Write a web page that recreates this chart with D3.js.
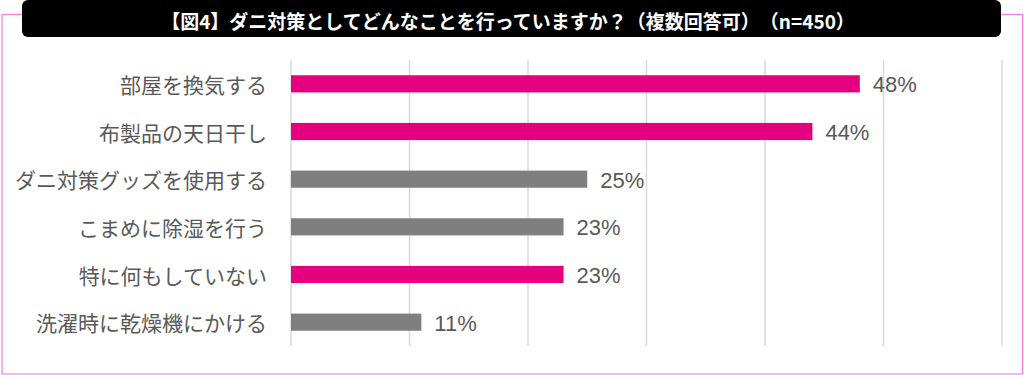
<!DOCTYPE html>
<html>
<head>
<meta charset="utf-8">
<script src="https://cdn.jsdelivr.net/npm/d3@7"></script>
<style>
  html, body { margin: 0; padding: 0; background: #fff; }
  svg { display: block; }
  text { text-spacing-trim: space-all; }
</style>
</head>
<body>
<div id="viz"></div>
<script>
// data
const titleText = "【図4】ダニ対策としてどんなことを行っていますか？（複数回答可）（n=450）";
const categories = ["部屋を換気する", "布製品の天日干し", "ダニ対策グッズを使用する", "こまめに除湿を行う", "特に何もしていない", "洗濯時に乾燥機にかける"];
const values = [48, 44, 25, 23, 23, 11];
const highlight = [true, true, false, false, true, false];
const xTicks = [0, 10, 20, 30, 40, 50, 60];

const width = 1024, height = 375;
const pink = "#e4007f", gray = "#7f7f7f", textCol = "#595959";

const svg = d3.select("#viz").append("svg")
  .attr("width", width)
  .attr("height", height);

// outer pink frame
svg.append("rect")
  .attr("x", 2).attr("y", 14.5)
  .attr("width", 1020.5).attr("height", 359.5)
  .attr("fill", "none")
  .attr("stroke", "#f57cf5")
  .attr("stroke-width", 1.2);

// title banner
svg.append("rect")
  .attr("x", 22).attr("y", 0)
  .attr("width", 979).attr("height", 37)
  .attr("rx", 6)
  .attr("fill", "#000");

svg.append("text")
  .attr("x", 508).attr("y", 20)
  .attr("text-anchor", "middle")
  .attr("dominant-baseline", "central")
  .attr("fill", "#fff")
  .attr("font-family", "'Noto Sans CJK JP', sans-serif")
  .attr("font-weight", "bold")
  .attr("font-size", 19)
  .text(titleText);

// scales
const x = d3.scaleLinear().domain([0, 60]).range([291, 1002]);
const y = d3.scaleBand().domain(categories).range([60, 346])
  .paddingInner(0.64).paddingOuter(0.32);

// grid
svg.append("g")
  .selectAll("line")
  .data(xTicks)
  .join("line")
  .attr("x1", d => x(d)).attr("x2", d => x(d))
  .attr("y1", 60).attr("y2", 346)
  .attr("stroke", "#d9d9d9")
  .attr("stroke-width", 1.5);

// bars
svg.append("g")
  .selectAll("rect")
  .data(values)
  .join("rect")
  .attr("x", x(0))
  .attr("y", (d, i) => y(categories[i]))
  .attr("width", d => x(d) - x(0))
  .attr("height", y.bandwidth())
  .attr("fill", (d, i) => highlight[i] ? pink : gray);

// value labels
svg.append("g")
  .selectAll("text")
  .data(values)
  .join("text")
  .attr("x", d => x(d) + 13)
  .attr("y", (d, i) => y(categories[i]) + y.bandwidth() / 2)
  .attr("dy", "0.38em")
  .attr("fill", textCol)
  .attr("font-family", "'Liberation Sans', Arial, sans-serif")
  .attr("font-size", 22)
  .text(d => d + "%");

// category labels
svg.append("g")
  .selectAll("text")
  .data(categories)
  .join("text")
  .attr("x", 267)
  .attr("y", d => y(d) + y.bandwidth() / 2)
  .attr("dominant-baseline", "central")
  .attr("text-anchor", "end")
  .attr("fill", textCol)
  .attr("font-family", "'Noto Sans CJK JP', sans-serif")
  .attr("font-size", 21)
  .text(d => d);
</script>
</body>
</html>
